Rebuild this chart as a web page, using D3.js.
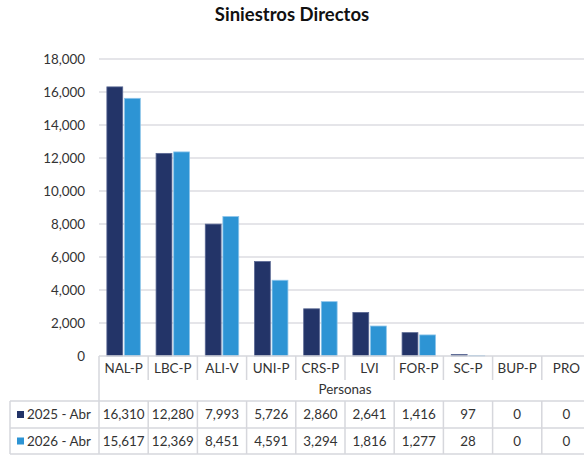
<!DOCTYPE html>
<html>
<head>
<meta charset="utf-8">
<script src="https://cdn.jsdelivr.net/npm/d3@7"></script>
<style>
  html, body { margin: 0; padding: 0; background: #fff; }
  svg { display: block; font-family: Lato, "Open Sans", sans-serif; }
</style>
</head>
<body>
<svg id="chart" width="584" height="455"></svg>
<script>
const categories = ["NAL-P", "LBC-P", "ALI-V", "UNI-P", "CRS-P", "LVI", "FOR-P", "SC-P", "BUP-P", "PRO"];
const seriesNames = ["2025 - Abr", "2026 - Abr"];
const values2025 = [16310, 12280, 7993, 5726, 2860, 2641, 1416, 97, 0, 0];
const values2026 = [15617, 12369, 8451, 4591, 3294, 1816, 1277, 28, 0, 0];
const yTicks = [0, 2000, 4000, 6000, 8000, 10000, 12000, 14000, 16000, 18000];
const seriesColors = ["#233468", "#2d94d4"];
const seriesStroke = ["#5a6894", "#8cc4ea"];
const axisTitle = "Personas";
const title = "Siniestros Directos";

const series = [values2025, values2026];
const svg = d3.select("#chart");
const fmt = d3.format(",");
const FS = 13.4;

const x = d3.scaleBand().domain(categories).range([99, 591]).padding(0);
const y = d3.scaleLinear().domain([0, 18000]).range([356, 59]);
const xs = d3.scaleBand().domain(seriesNames)
  .range([x.bandwidth() * 0.16, x.bandwidth() * 0.84]).paddingInner(0.1);

// title
svg.append("text").attr("x", 292).attr("y", 21).attr("text-anchor", "middle")
  .attr("font-size", 18.5).attr("font-weight", "bold").attr("fill", "#111")
  .text(title);

// gridlines
svg.append("g").selectAll("line").data(yTicks.filter(d => d > 0)).join("line")
  .attr("x1", 99).attr("x2", 584)
  .attr("y1", d => y(d)).attr("y2", d => y(d))
  .attr("stroke", "#dcdde2").attr("stroke-width", 1.6);

// y axis labels
const yAxis = d3.axisLeft(y).tickValues(yTicks).tickFormat(fmt).tickSize(0).tickPadding(0);
const gy = svg.append("g").attr("transform", "translate(85,0)").call(yAxis);
gy.select(".domain").remove();
gy.selectAll("text").attr("font-size", FS).attr("fill", "#333")
  .attr("font-family", "Lato, 'Open Sans', sans-serif");

// bars
series.forEach((vals, si) => {
  svg.append("g").selectAll("rect").data(categories.map((c, i) => ({c, v: vals[i]}))).join("rect")
    .attr("x", d => x(d.c) + xs(seriesNames[si]))
    .attr("y", d => y(d.v))
    .attr("width", xs.bandwidth())
    .attr("height", d => y(0) - y(d.v))
    .attr("fill", seriesColors[si])
    .attr("stroke", d => d.v > 0 ? seriesStroke[si] : "none")
    .attr("stroke-width", 0.8);
});

// table
const border = "#d6d7dc";
const tbl = svg.append("g");
const rowCatTop = 356, rowCatBot = 380, rowPersBot = 401, row1Bot = 428, row2Bot = 454;
const tx0 = 99, tx1 = 591, legLeft = 10;

categories.forEach(c => {
  tbl.append("line").attr("x1", x(c)).attr("x2", x(c)).attr("y1", rowCatTop).attr("y2", rowCatBot)
    .attr("stroke", border).attr("stroke-width", 1.5);
});
tbl.append("line").attr("x1", tx0).attr("x2", tx1).attr("y1", rowCatTop).attr("y2", rowCatTop)
  .attr("stroke", border).attr("stroke-width", 1.5);
tbl.append("line").attr("x1", tx0).attr("x2", tx0).attr("y1", rowCatBot).attr("y2", rowPersBot)
  .attr("stroke", border).attr("stroke-width", 1.5);

tbl.selectAll("text.cat").data(categories).join("text").attr("class", "cat")
  .attr("x", d => x(d) + x.bandwidth() / 2).attr("y", 373)
  .attr("text-anchor", "middle").attr("font-size", FS).attr("fill", "#333").text(d => d);

tbl.append("text").attr("x", (tx0 + tx1) / 2).attr("y", 394).attr("text-anchor", "middle")
  .attr("font-size", FS).attr("fill", "#333").text(axisTitle);

const rowTops = [rowPersBot, row1Bot];
const rowBots = [row1Bot, row2Bot];
[rowPersBot, row1Bot, row2Bot].forEach(yy => {
  tbl.append("line").attr("x1", legLeft).attr("x2", tx1).attr("y1", yy).attr("y2", yy)
    .attr("stroke", border).attr("stroke-width", 1.5);
});
tbl.append("line").attr("x1", legLeft).attr("x2", legLeft).attr("y1", rowPersBot).attr("y2", row2Bot)
  .attr("stroke", border).attr("stroke-width", 1.5);
categories.forEach(c => {
  tbl.append("line").attr("x1", x(c)).attr("x2", x(c)).attr("y1", rowPersBot).attr("y2", row2Bot)
    .attr("stroke", border).attr("stroke-width", 1.5);
});

series.forEach((vals, si) => {
  const ym = (rowTops[si] + rowBots[si]) / 2;
  tbl.append("rect").attr("x", 17).attr("y", ym - 3.5).attr("width", 7).attr("height", 7)
    .attr("fill", seriesColors[si]);
  tbl.append("text").attr("x", 27).attr("y", ym + 4.8).attr("font-size", FS).attr("fill", "#333")
    .text(seriesNames[si]);
  tbl.append("g").selectAll("text").data(categories.map((c, i) => ({c, v: vals[i]}))).join("text")
    .attr("x", d => x(d.c) + x.bandwidth() / 2).attr("y", ym + 4.8)
    .attr("text-anchor", "middle").attr("font-size", FS).attr("fill", "#333")
    .text(d => fmt(d.v));
});
</script>
</body>
</html>
